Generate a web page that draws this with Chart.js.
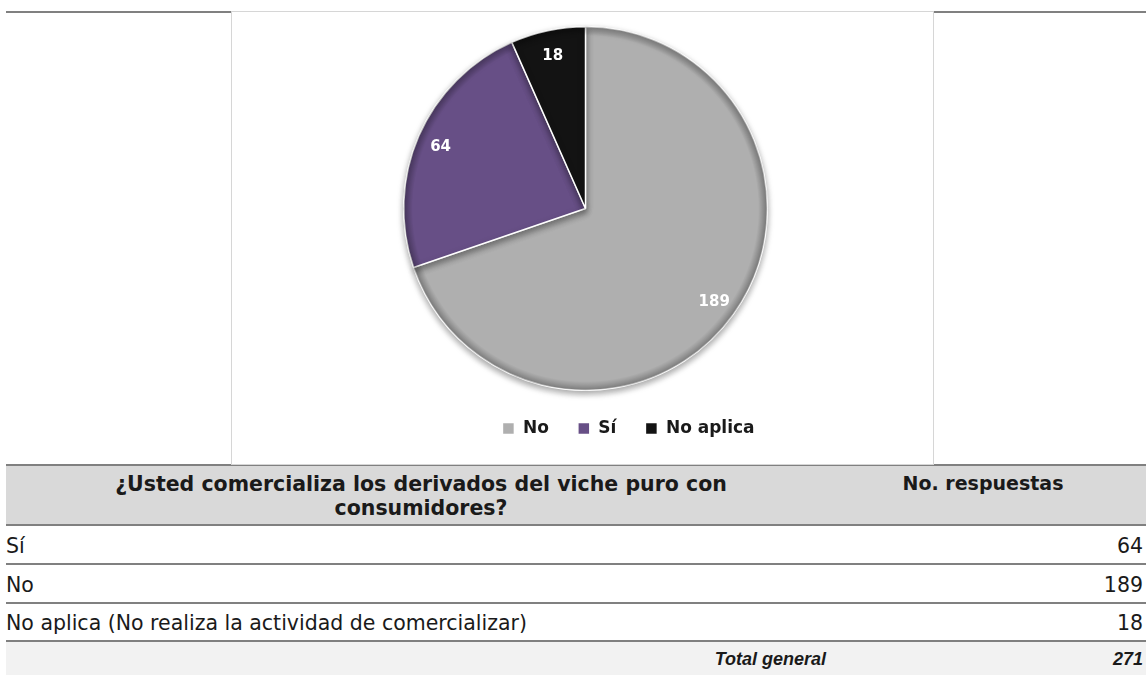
<!DOCTYPE html>
<html>
<head>
<meta charset="utf-8">
<script src="https://cdn.jsdelivr.net/npm/chart.js@4.4.1/dist/chart.umd.min.js"></script>
<style>
    body { margin: 0; width: 1146px; height: 675px; background: #fff; position: relative; overflow: hidden; font-family: "DejaVu Sans", sans-serif; color: #1a1a1a; }
    .topline { position: absolute; left: 6px; top: 11px; width: 1140px; height: 2px; background: #808080; }
    .box { position: absolute; left: 231px; top: 11px; width: 701px; height: 452px; border: 1px solid #d6d6d6; background: #fff; z-index: 2; }
    .box canvas { display: block; }
    .row { position: absolute; left: 6px; width: 1140px; border-top: 2px solid #808080; box-sizing: border-box; font-size: 20.5px; }
    .row .c1 { position: absolute; left: 0; width: 830px; top: 0; bottom: 0; display: flex; align-items: center; white-space: nowrap; }
    .row .c2 { position: absolute; left: 830px; right: 0; top: 0; bottom: 0; display: flex; align-items: center; justify-content: flex-end; padding-right: 3px; }
    .head { background: #d9d9d9; font-weight: bold; }
    .head .c1 { justify-content: center; text-align: center; line-height: 24px; }
    .head .c2 { justify-content: center; align-items: flex-start; padding-top: 6px; padding-right: 16px; font-size: 19px; }
    .total { background: #f2f2f2; font-weight: bold; font-style: italic; font-family: "Liberation Sans", sans-serif; font-size: 18px; }
    .total .c1 { justify-content: flex-end; padding-right: 10px; box-sizing: border-box; }
</style>
</head>
<body>
<div class="topline"></div>
<div class="box"><canvas id="pieChart"></canvas></div>
<div id="table"></div>

<script>
// Chart data
const labels = ['No', 'Sí', 'No aplica'];
const values = [189, 64, 18];
const colors = ['#afafaf', '#674f86', '#131313'];

// Table data
const questionText = ['¿Usted comercializa los derivados del viche puro con', 'consumidores?'];
const countHeader = 'No. respuestas';
const rowLabels = ['Sí', 'No', 'No aplica (No realiza la actividad de comercializar)'];
const rowValues = [64, 189, 18];
const totalLabel = 'Total general';
const totalValue = 271;

// Build the table under the chart
const rowTops = [464, 524, 563, 602, 640];
const rowHeights = [62, 41, 41, 40, 37];
const table = document.getElementById('table');

function addRow(cls, top, height, c1, c2) {
    const row = document.createElement('div');
    row.className = 'row ' + cls;
    row.style.top = top + 'px';
    row.style.height = height + 'px';
    row.innerHTML = `<div class="c1">${c1}</div><div class="c2">${c2}</div>`;
    table.appendChild(row);
}

addRow('head', rowTops[0], rowHeights[0], questionText.join('<br>'), countHeader);
rowLabels.forEach((label, i) => {
    addRow('body', rowTops[i + 1], rowHeights[i + 1], label, rowValues[i]);
});
addRow('total', rowTops[4], rowHeights[4], totalLabel, totalValue);

// Value labels drawn near the rim of each slice
const sliceLabels = {
    id: 'sliceLabels',
    afterDatasetsDraw(chart) {
        const ctx = chart.ctx;
        const meta = chart.getDatasetMeta(0);
        ctx.save();
        ctx.font = 'bold 15px "DejaVu Sans"';
        ctx.fillStyle = '#ffffff';
        ctx.textAlign = 'center';
        ctx.textBaseline = 'middle';
        meta.data.forEach((arc, i) => {
            const { x, y, startAngle, endAngle, outerRadius } = arc.getProps(['x', 'y', 'startAngle', 'endAngle', 'outerRadius'], true);
            const mid = (startAngle + endAngle) / 2;
            const r = outerRadius * 0.87;
            ctx.fillText(chart.data.datasets[0].data[i], x + Math.cos(mid) * r, y + Math.sin(mid) * r + 2);
        });
        ctx.restore();
    }
};

// Soft bevel + drop shadow for the pie
const pieShade = {
    id: 'pieShade',
    beforeDatasetsDraw(chart) {
        const ctx = chart.ctx;
        ctx.save();
        ctx.shadowColor = 'rgba(0,0,0,0.35)';
        ctx.shadowBlur = 6;
        ctx.shadowOffsetY = 3;
    },
    afterDatasetsDraw(chart) {
        const ctx = chart.ctx;
        ctx.restore();
        const arc = chart.getDatasetMeta(0).data[0];
        if (!arc) return;
        const { x, y, outerRadius } = arc.getProps(['x', 'y', 'outerRadius'], true);
        const g = ctx.createRadialGradient(x, y, outerRadius * 0.95, x, y, outerRadius);
        g.addColorStop(0, 'rgba(0,0,0,0)');
        g.addColorStop(1, 'rgba(0,0,0,0.28)');
        ctx.save();
        ctx.beginPath();
        ctx.arc(x, y, outerRadius, 0, Math.PI * 2);
        ctx.fillStyle = g;
        ctx.fill();
        ctx.restore();
    }
};

// The legend sits a bit right of the pie in the original
const legendShift = {
    id: 'legendShift',
    afterLayout(chart) {
        chart.legend.left += 43;
        chart.legend.right += 43;
    }
};

new Chart(document.getElementById('pieChart'), {
    type: 'pie',
    data: {
        labels: labels,
        datasets: [{
            data: values,
            backgroundColor: colors,
            borderColor: '#ffffff',
            borderWidth: 1.5
        }]
    },
    options: {
        responsive: true,
        maintainAspectRatio: false,
        animation: false,
        layout: { padding: { top: 14, left: 6, bottom: 17 } },
        plugins: {
            tooltip: { enabled: false },
            legend: {
                position: 'bottom',
                labels: {
                    boxWidth: 12,
                    boxHeight: 12,
                    padding: 29,
                    color: '#1a1a1a',
                    font: { family: 'DejaVu Sans', size: 17, weight: 'bold' }
                }
            }
        }
    },
    plugins: [pieShade, sliceLabels, legendShift]
});
</script>
</body>
</html>
